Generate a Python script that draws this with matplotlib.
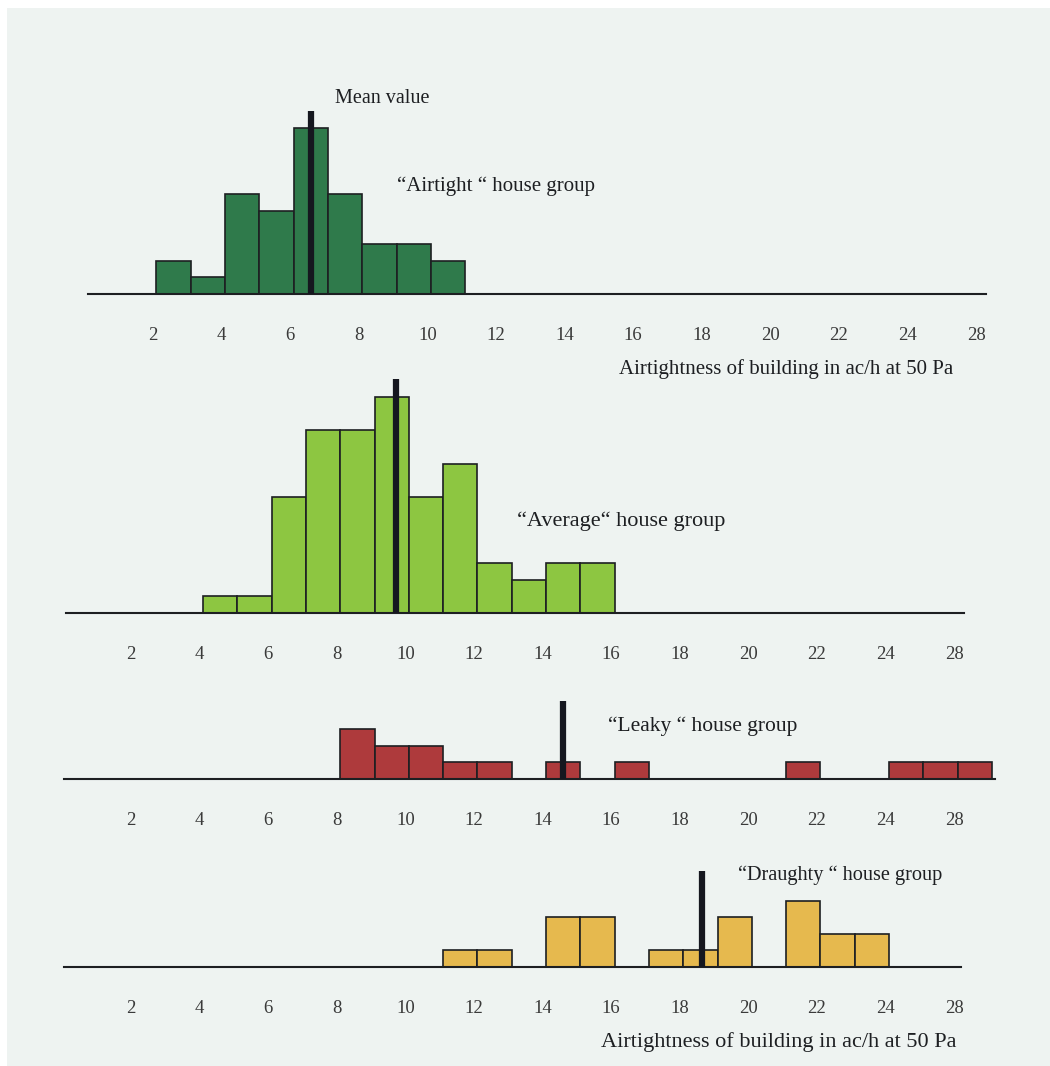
import matplotlib
matplotlib.use('Agg')  # no display in the sandbox

import matplotlib.pyplot as plt
from matplotlib.patches import Rectangle

plt.rcParams['font.family'] = ['Liberation Serif', 'DejaVu Serif']

# tick labels (the last label reads 28 but sits one step after 24)
tick_pos = [2, 4, 6, 8, 10, 12, 14, 16, 18, 20, 22, 24, 26]
tick_labels = ['2', '4', '6', '8', '10', '12', '14', '16', '18', '20', '22', '24', '28']

# house groups: left edge of each 1 ac/h bin and the number of houses
airtight_bins = [2, 3, 4, 5, 6, 7, 8, 9, 10]
airtight_counts = [2, 1, 6, 5, 10, 6, 3, 3, 2]
airtight_mean = 6.62

average_bins = [4, 5, 6, 7, 8, 9, 10, 11, 12, 13, 14, 15]
average_counts = [1, 1, 7, 11, 11, 13, 7, 9, 3, 2, 3, 3]
average_mean = 9.72

leaky_bins = [8, 9, 10, 11, 12, 14, 16, 21, 24, 25, 26]
leaky_counts = [3, 2, 2, 1, 1, 1, 1, 1, 1, 1, 1]
leaky_mean = 14.6

draughty_bins = [11, 12, 14, 15, 17, 18, 19, 21, 22, 23]
draughty_counts = [1, 1, 3, 3, 1, 1, 3, 4, 2, 2]
draughty_mean = 18.66

axis_label = 'Airtightness of building in ac/h at 50 Pa'

W, H = 1050, 1066
PX_X = 34.3   # pixels per ac/h
PX_Y = 16.6   # pixels per house
BG = '#eef3f1'
INK = '#1d1f22'

fig = plt.figure(figsize=(W / 100, H / 100), dpi=100, facecolor='white')
# scanned page area, thin white margin on top and left
fig.patches.append(Rectangle((7 / W, 0), 1, 1 - 8 / H, transform=fig.transFigure,
                             facecolor=BG, edgecolor='none', zorder=-10))


def add_panel(x_of_2, baseline_y, ymax, line_from, line_to):
    left = x_of_2 - 2 * PX_X
    ax = fig.add_axes([left / W, (H - baseline_y) / H, 28 * PX_X / W, ymax * PX_Y / H])
    ax.set_xlim(0, 28)
    ax.set_ylim(0, ymax)
    ax.patch.set_visible(False)
    for s in ['top', 'right', 'left']:
        ax.spines[s].set_visible(False)
    ax.spines['bottom'].set_bounds(line_from, line_to)
    ax.spines['bottom'].set_linewidth(1.5)
    ax.spines['bottom'].set_color(INK)
    ax.set_yticks([])
    ax.set_xticks(tick_pos)
    ax.set_xticklabels(tick_labels, fontsize=13.5, color='#3a3a3a')
    ax.tick_params(axis='x', length=0, pad=24)
    return ax


def draw_group(ax, bins, counts, color, mean, mean_top, label, lx, ly, size=15):
    ax.bar([b + 0.1 for b in bins], counts, width=1, align='edge',
           color=color, edgecolor=INK, linewidth=1.2, zorder=2)
    ax.vlines(mean, 0, mean_top, color='#15171f', linewidth=4.5, zorder=3)
    ax.text(lx, ly, label, fontsize=size, color=INK, va='center', ha='left')


ax1 = add_panel(153, 294, 12.5, 0.1, 26.3)
draw_group(ax1, airtight_bins, airtight_counts, '#2f7a4b', airtight_mean, 11.0,
           '\u201cAirtight \u201c house group', 9.1, 6.5, 15)
ax1.text(7.3, 11.8, 'Mean value', fontsize=14.5, color=INK, va='center', ha='left')
ax1.text(15.6, -4.5, axis_label, fontsize=15, color=INK, va='center', ha='left')

ax2 = add_panel(131, 613, 15, 0.1, 26.3)
draw_group(ax2, average_bins, average_counts, '#8dc641', average_mean, 14.1,
           '\u201cAverage\u201c house group', 13.25, 5.5, 16)

ax3 = add_panel(131, 779, 5.5, 0.05, 27.2)
draw_group(ax3, leaky_bins, leaky_counts, '#ae3a3c', leaky_mean, 4.7,
           '\u201cLeaky \u201c house group', 15.9, 3.2, 15.5)

ax4 = add_panel(131, 967, 6.5, 0.05, 26.2)
draw_group(ax4, draughty_bins, draughty_counts, '#e6b94e', draughty_mean, 5.8,
           '\u201cDraughty \u201c house group', 19.7, 5.5, 14.6)
ax4.text(15.7, -4.5, axis_label, fontsize=16, color=INK, va='center', ha='left')

plt.savefig('out.png', dpi=100, facecolor='white')
plt.close()
